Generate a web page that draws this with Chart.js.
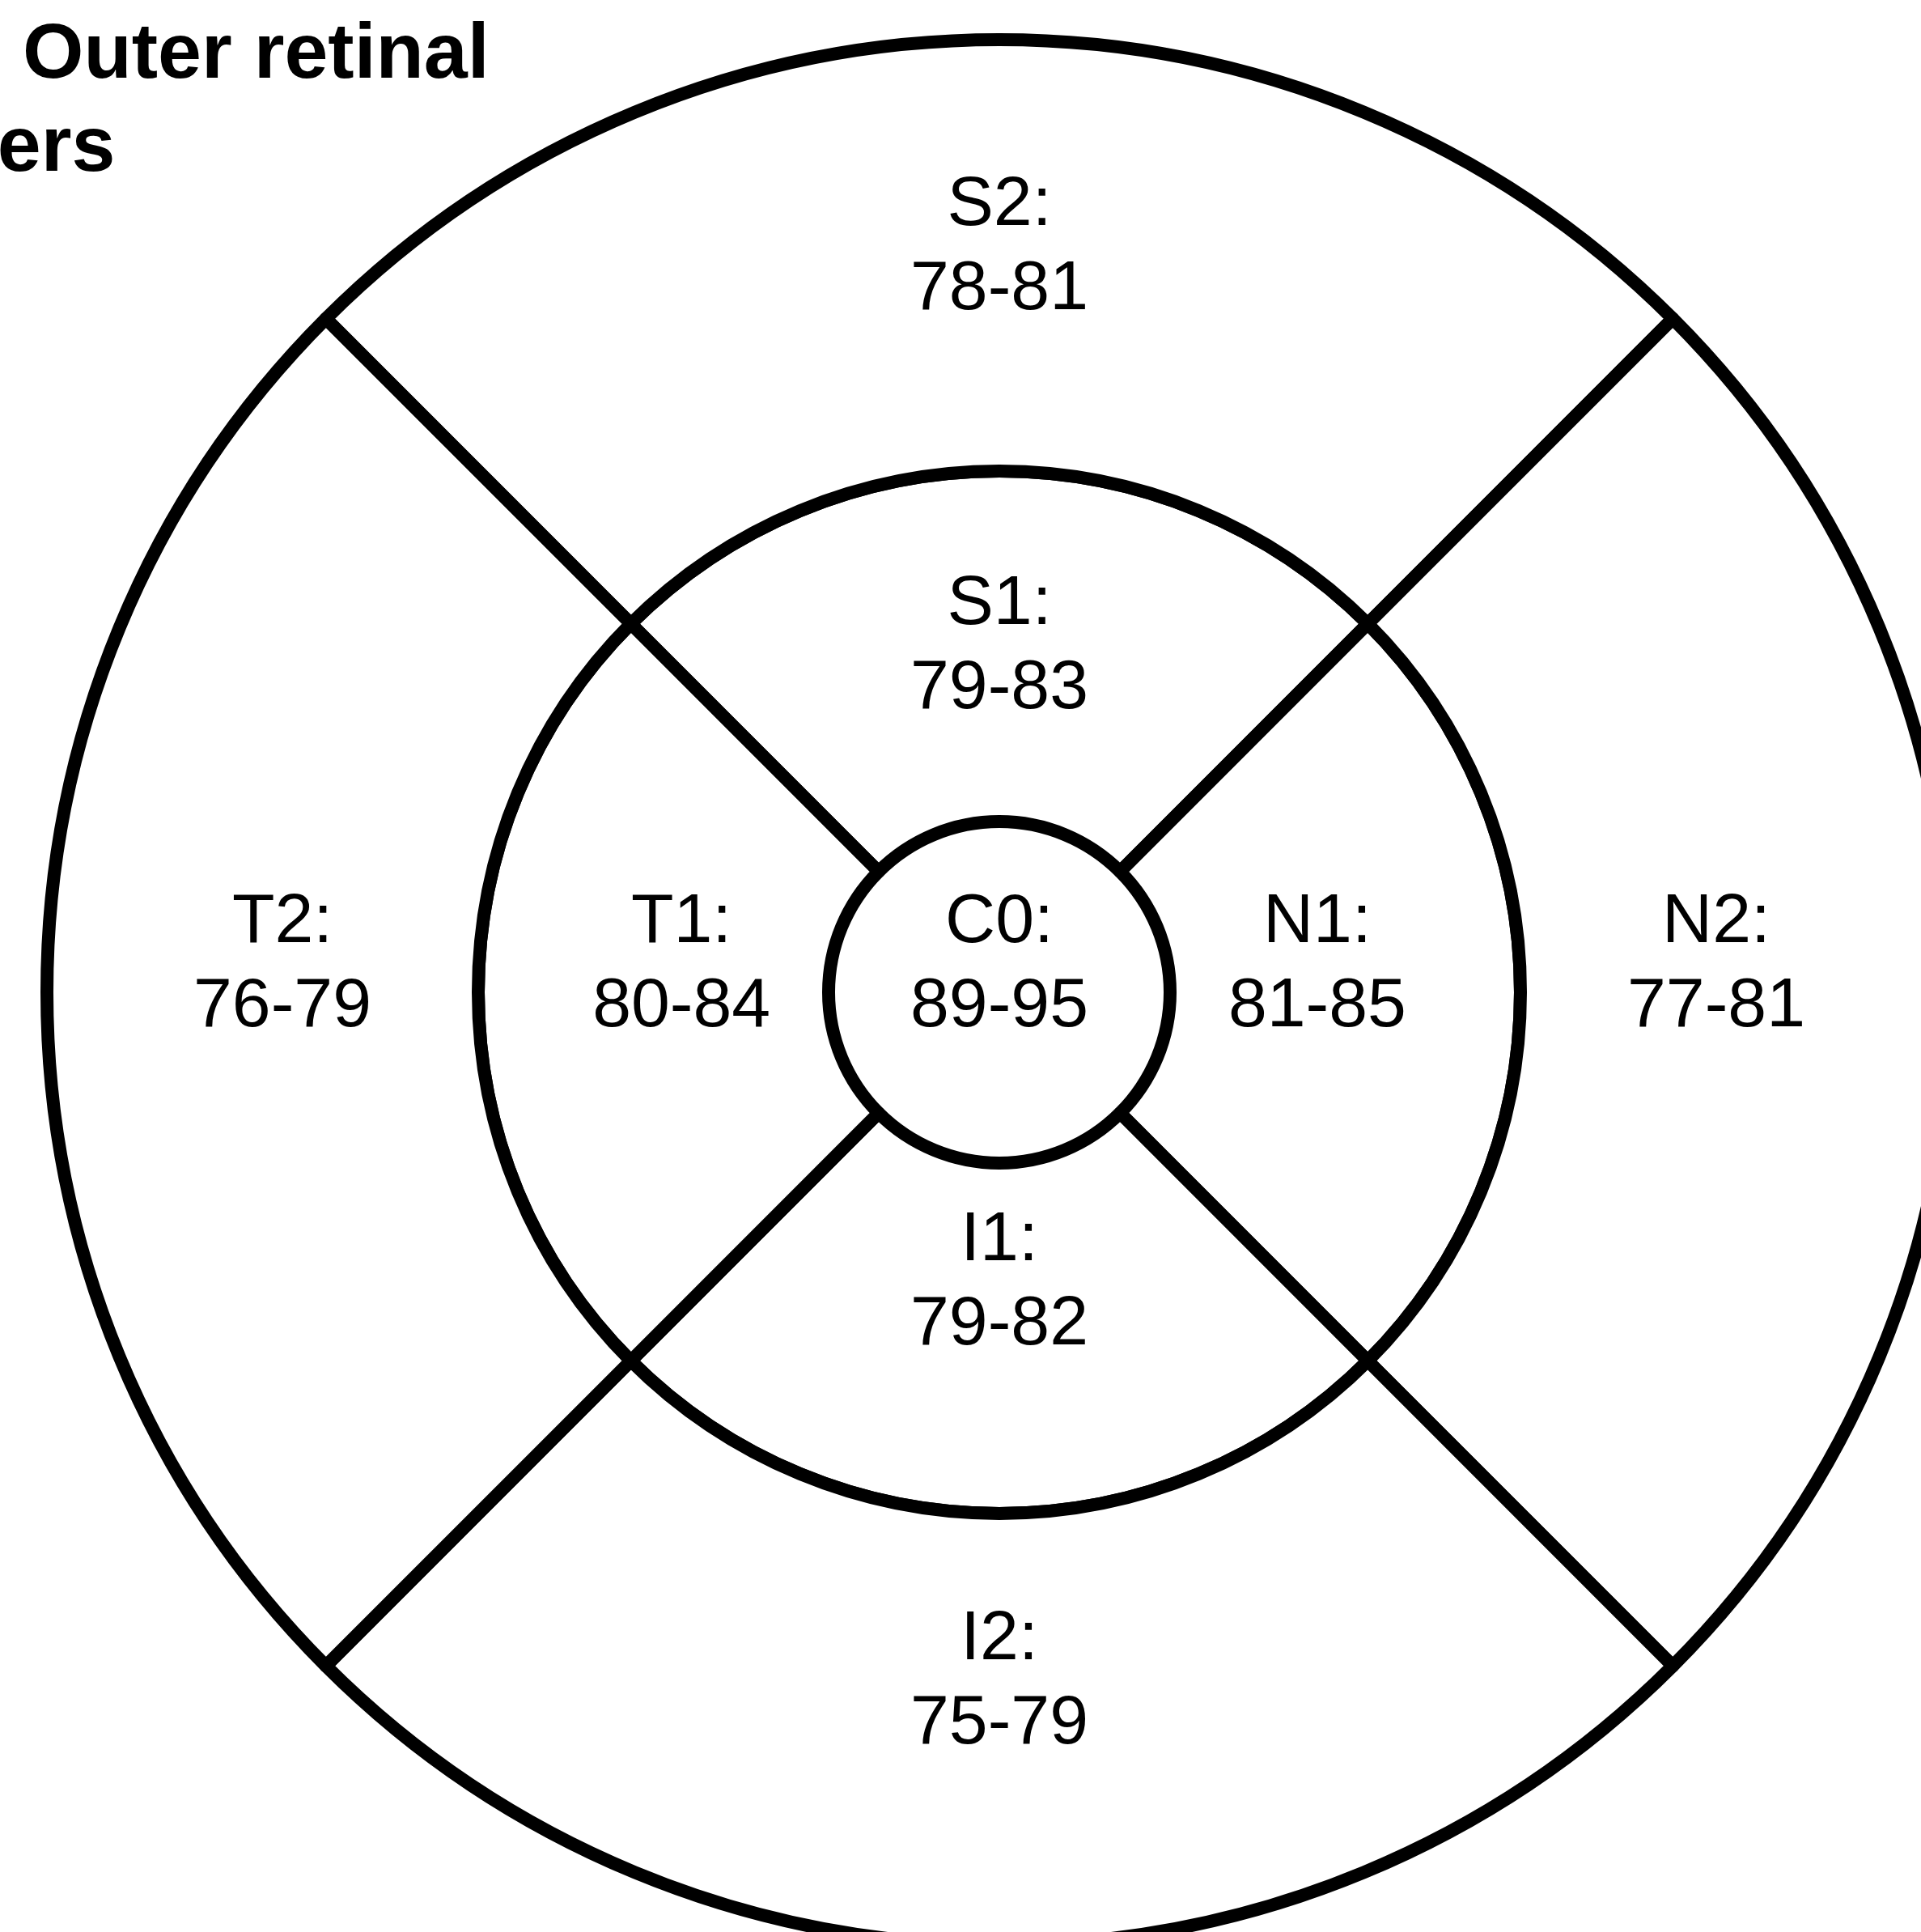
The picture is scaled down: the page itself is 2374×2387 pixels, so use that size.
<!DOCTYPE html>
<html>
<head>
<meta charset="utf-8">
<script src="https://cdn.jsdelivr.net/npm/chart.js@4.4.1/dist/chart.umd.min.js"></script>
<style>
  html, body { margin: 0; padding: 0; background: #ffffff; overflow: hidden; }
  canvas { display: block; }
</style>
</head>
<body>
<canvas id="c" width="2374" height="2387"></canvas>
<script>
// ---- data (ETDRS grid sectors) ----
const outerSectors = ['S2', 'N2', 'I2', 'T2'];
const outerLow     = [78, 77, 75, 76];
const outerHigh    = [81, 81, 79, 79];

const innerSectors = ['S1', 'N1', 'I1', 'T1'];
const innerLow     = [79, 81, 79, 80];
const innerHigh    = [83, 85, 82, 84];

const centerSectors = ['C0'];
const centerLow     = [89];
const centerHigh    = [95];

const quadrantSpan = [90, 90, 90, 90];   // each sector covers a quarter of its ring
const centerSpan   = [360];

const titleLines = ['Outer retinal', 'layers'];

// ---- chart ----
const FONT = '"Liberation Sans", Arial, Helvetica, sans-serif';
const ringLabelFrac = [0.454, 0.42, 0];
const ringTexts = [
  { names: outerSectors,  low: outerLow,  high: outerHigh },
  { names: innerSectors,  low: innerLow,  high: innerHigh },
  { names: centerSectors, low: centerLow, high: centerHigh }
];

const labelPlugin = {
  id: 'sectorLabels',
  afterDatasetsDraw(chart) {
    const ctx = chart.ctx;
    ctx.save();
    ctx.fillStyle = '#000000';
    ctx.font = '86px ' + FONT;
    ctx.textAlign = 'center';
    ctx.textBaseline = 'alphabetic';
    chart.data.datasets.forEach((ds, di) => {
      const meta = chart.getDatasetMeta(di);
      const t = ringTexts[di];
      meta.data.forEach((arc, j) => {
        const p = arc.getProps(['x', 'y', 'startAngle', 'endAngle', 'innerRadius', 'outerRadius'], true);
        const mid = (p.startAngle + p.endAngle) / 2;
        const r = p.innerRadius > 0 ? p.innerRadius + ringLabelFrac[di] * (p.outerRadius - p.innerRadius) : 0;
        const ax = p.x + Math.cos(mid) * r;
        const ay = p.y + Math.sin(mid) * r;
        ctx.fillText(t.names[j] + ':', ax, ay - 62);
        ctx.fillText(t.low[j] + '-' + t.high[j], ax, ay + 42);
      });
    });
    ctx.restore();
  }
};

const titlePlugin = {
  id: 'cornerTitle',
  afterDraw(chart) {
    const ctx = chart.ctx;
    ctx.save();
    ctx.fillStyle = '#000000';
    ctx.font = 'bold 97px ' + FONT;
    ctx.textAlign = 'left';
    ctx.textBaseline = 'alphabetic';
    ctx.fillText(titleLines[0], 28, 96);
    ctx.fillText(titleLines[1], -138, 211);
    ctx.restore();
  }
};

const bgPlugin = {
  id: 'bg',
  beforeDraw(chart) {
    const ctx = chart.ctx;
    ctx.save();
    ctx.fillStyle = '#ffffff';
    ctx.fillRect(0, 0, chart.width, chart.height);
    ctx.restore();
  }
};

new Chart(document.getElementById('c'), {
  type: 'doughnut',
  data: {
    labels: outerSectors,
    datasets: [
      { data: quadrantSpan, weight: 533, backgroundColor: '#ffffff', borderColor: '#000000', borderWidth: 16, borderJoinStyle: 'round', clip: false },
      { data: quadrantSpan, weight: 433, backgroundColor: '#ffffff', borderColor: '#000000', borderWidth: 16, borderJoinStyle: 'round', clip: false },
      { data: centerSpan,   weight: 211, backgroundColor: '#ffffff', borderColor: '#000000', borderWidth: 0, clip: false }
    ]
  },
  options: {
    responsive: false,
    animation: false,
    events: [],
    devicePixelRatio: 1,
    radius: 1177,
    cutout: 0,
    rotation: -45,
    layout: { padding: { left: 96, top: 65, right: 0, bottom: 0 } },
    plugins: {
      legend: { display: false },
      tooltip: { enabled: false },
      title: { display: false }
    }
  },
  plugins: [bgPlugin, labelPlugin, titlePlugin]
});
</script>
</body>
</html>
